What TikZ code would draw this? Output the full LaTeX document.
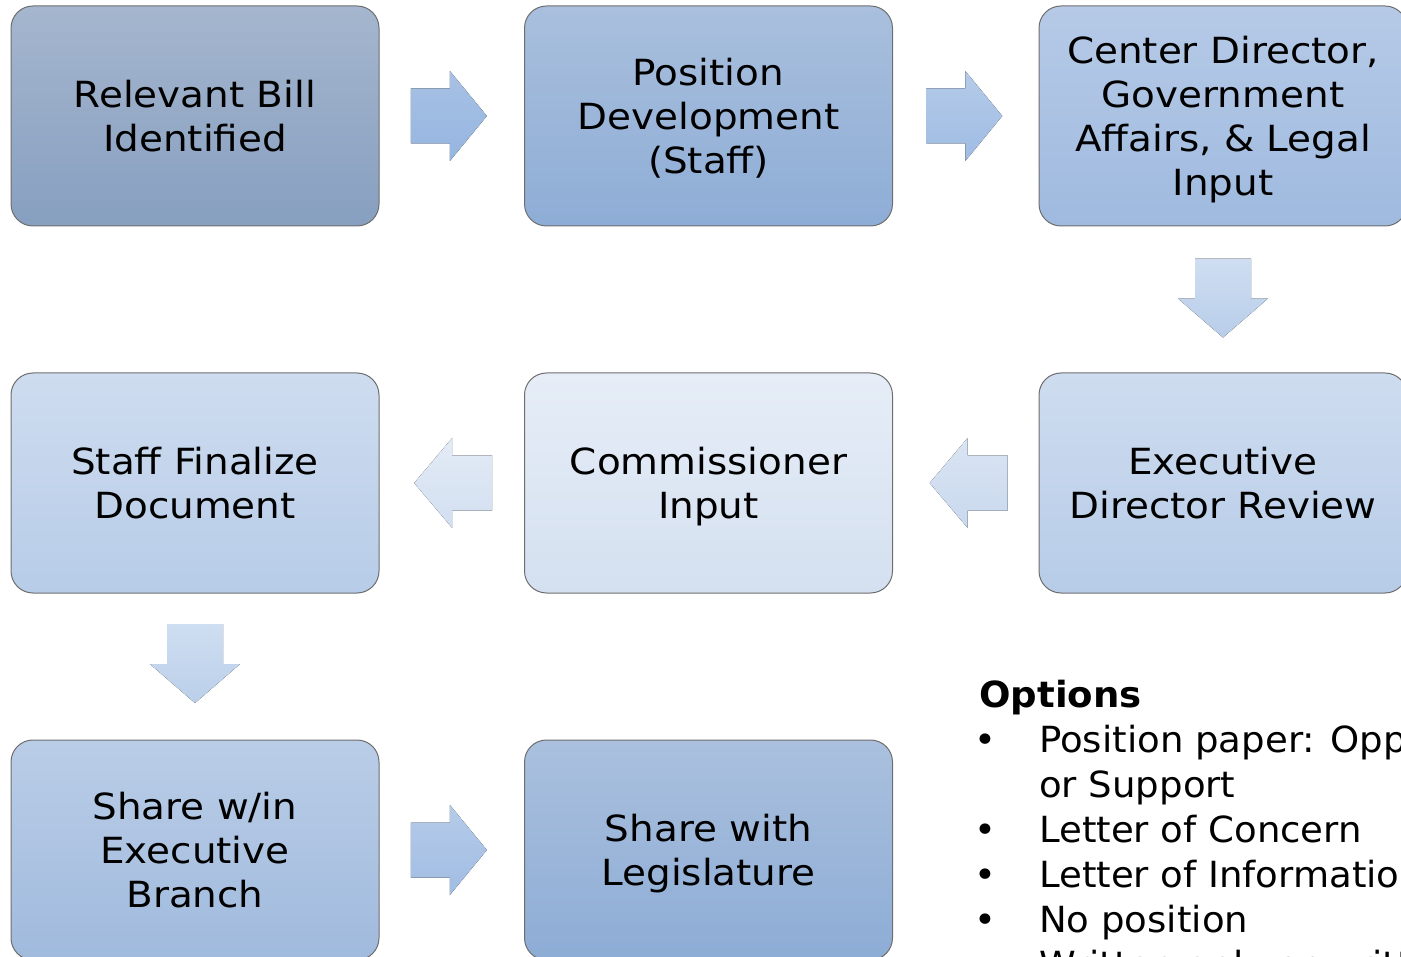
\documentclass[tikz,border=0pt]{standalone}
\usepackage{fontspec}
\setmainfont{DejaVu Sans}[FakeStretch=1.08]
\newfontfamily\optfont{DejaVu Sans}[FakeStretch=1.03]
\usepackage{tikz}
\usetikzlibrary{calc}

\definecolor{boxline}{HTML}{6E6E6E}

\tikzset{
    stepbox/.style={draw=boxline,line width=1pt,rounded corners=22pt,
        minimum width=368pt,minimum height=220pt,inner sep=0pt,
        text depth=0pt,align=center,font=\fontsize{36}{44}\selectfont},
    optline/.style={anchor=base west,inner sep=0pt,
        font=\optfont\fontsize{36}{45}\selectfont},
    optbullet/.style={anchor=base,inner sep=0pt,
        font=\optfont\fontsize{36}{45}\selectfont},
}

\begin{document}
\begin{tikzpicture}[x=1pt,y=-1pt]
    \useasboundingbox (0,0) rectangle (1401,957);
    \clip (0,0) rectangle (1401,957);

    % first row
    \node[stepbox,top color={rgb,255:red,165;green,182;blue,206},bottom color={rgb,255:red,135;green,159;blue,192}]
        (bill) at (195,116) {Relevant Bill\\Identified};
    \node[stepbox,top color={rgb,255:red,169;green,191;blue,221},bottom color={rgb,255:red,142;green,173;blue,214}]
        (staff) at (708.5,116) {Position\\Development\\(Staff)};
    \node[stepbox,top color={rgb,255:red,182;green,202;blue,231},bottom color={rgb,255:red,159;green,186;blue,223}]
        (legal) at (1223,116) {Center Director,\\Government\\Affairs, \& Legal\\Input};

    % second row
    \node[stepbox,top color={rgb,255:red,206;green,220;blue,239},bottom color={rgb,255:red,183;green,204;blue,232}]
        (final) at (195,483) {Staff Finalize\\Document};
    \node[stepbox,top color={rgb,255:red,230;green,237;blue,247},bottom color={rgb,255:red,212;green,224;blue,240}]
        (comm) at (708.5,483) {Commissioner\\Input};
    \node[stepbox,top color={rgb,255:red,206;green,220;blue,239},bottom color={rgb,255:red,183;green,204;blue,232}]
        (execdir) at (1223,483) {Executive\\Director Review};

    % third row
    \node[stepbox,top color={rgb,255:red,186;green,205;blue,231},bottom color={rgb,255:red,160;green,186;blue,221}]
        (branch) at (195,850) {Share w/in\\Executive\\Branch};
    \node[stepbox,top color={rgb,255:red,170;green,192;blue,222},bottom color={rgb,255:red,141;green,172;blue,213}]
        (legis) at (708.5,850) {Share with\\Legislature};

    % block arrows between the steps
    \coordinate (billstaff) at ($(bill.east)!.48!(staff.west)$);
    \coordinate (stafflegal) at ($(staff.east)!.49!(legal.west)$);
    \coordinate (legalexec) at ($(legal.south)!.49!(execdir.north)$);
    \coordinate (execcomm) at ($(comm.east)!.52!(execdir.west)$);
    \coordinate (commfinal) at ($(final.east)!.51!(comm.west)$);
    \coordinate (finalbranch) at ($(final.south)!.48!(branch.north)$);
    \coordinate (branchlegis) at ($(branch.east)!.48!(legis.west)$);

    \fill[top color={rgb,255:red,168;green,193;blue,228},bottom color={rgb,255:red,149;green,181;blue,224}]
        (billstaff) ++(-38,-27.5) -- ++(39,0) -- ++(0,-17.5) -- ++(37,45) -- ++(-37,45) -- ++(0,-17.5) -- ++(-39,0) -- cycle;
    \fill[top color={rgb,255:red,181;green,203;blue,233},bottom color={rgb,255:red,159;green,188;blue,227}]
        (stafflegal) ++(-38,-27.5) -- ++(39,0) -- ++(0,-17.5) -- ++(37,45) -- ++(-37,45) -- ++(0,-17.5) -- ++(-39,0) -- cycle;
    \fill[top color={rgb,255:red,207;green,222;blue,241},bottom color={rgb,255:red,184;green,205;blue,234}]
        (legalexec) ++(-28,-39.5) -- ++(56,0) -- ++(0,40) -- ++(17,0) -- ++(-45,39) -- ++(-45,-39) -- ++(17,0) -- cycle;
    \fill[top color={rgb,255:red,218;green,229;blue,243},bottom color={rgb,255:red,200;green,216;blue,238}]
        (execcomm) ++(39,-27.5) -- ++(-40,0) -- ++(0,-17.5) -- ++(-38,45) -- ++(38,45) -- ++(0,-17.5) -- ++(40,0) -- cycle;
    \fill[top color={rgb,255:red,227;green,235;blue,246},bottom color={rgb,255:red,210;green,223;blue,241}]
        (commfinal) ++(39,-27.5) -- ++(-40,0) -- ++(0,-17.5) -- ++(-38,45) -- ++(38,45) -- ++(0,-17.5) -- ++(40,0) -- cycle;
    \fill[top color={rgb,255:red,207;green,222;blue,241},bottom color={rgb,255:red,186;green,207;blue,234}]
        (finalbranch) ++(-28,-39.5) -- ++(56,0) -- ++(0,40) -- ++(17,0) -- ++(-45,39) -- ++(-45,-39) -- ++(17,0) -- cycle;
    \fill[top color={rgb,255:red,181;green,203;blue,233},bottom color={rgb,255:red,161;green,189;blue,227}]
        (branchlegis) ++(-38,-27.5) -- ++(39,0) -- ++(0,-17.5) -- ++(37,45) -- ++(-37,45) -- ++(0,-17.5) -- ++(-39,0) -- cycle;

    % options list
    \node[optline] (opthead) at (979,707) {\textbf{Options}};
    \node[optbullet] (bulpaper) at (985,752) {\textbullet};
    \node[optline] (optpaper) at (1039,752) {Position paper: Oppose};
    \node[optline] (optsupport) at (1039,797) {or Support};
    \node[optbullet] (bulconcern) at (985,842) {\textbullet};
    \node[optline] (optconcern) at (1039,842) {Letter of Concern};
    \node[optbullet] (bulinfo) at (985,887) {\textbullet};
    \node[optline] (optinfo) at (1039,887) {Letter of Information};
    \node[optbullet] (bulnone) at (985,932) {\textbullet};
    \node[optline] (optnone) at (1039,932) {No position};
    \node[optline] (optwritten) at (1039,977) {Written only or written and oral};
\end{tikzpicture}
\end{document}
